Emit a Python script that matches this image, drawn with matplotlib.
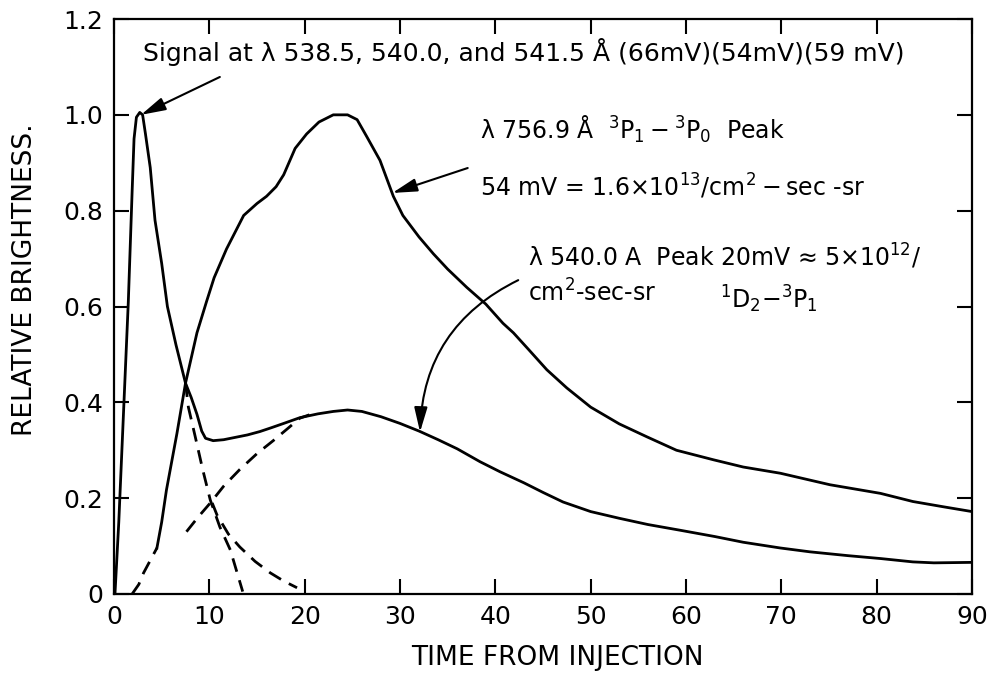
import matplotlib
matplotlib.use("Agg")
import matplotlib.pyplot as plt

# ==== data ====
# fast peak (538.5/540.0/541.5 A) joined to the slow 540.0 A component
fast_x = [0.1, 0.5, 1.0, 1.5, 1.9, 2.1, 2.35, 2.7, 3.0, 3.3, 3.8, 4.3, 5.0, 5.6,
          6.5, 7.5, 8.1, 8.7, 9.2, 9.6, 10.4, 11.5, 12.5, 14.0, 15.3, 16.5, 17.8,
          19.5, 21.4, 23.0, 24.5, 26.0, 28.0, 30.0, 32.0, 34.0, 36.0, 38.4, 40.5,
          43.0, 45.0, 47.1, 50.0, 53.0, 56.0, 59.4, 63.0, 66.0, 69.9, 73.0, 77.0,
          80.4, 83.8, 86.0, 90.0]
fast_y = [0.0, 0.15, 0.38, 0.61, 0.84, 0.95, 0.995, 1.005, 1.0, 0.96, 0.89, 0.78,
          0.69, 0.60, 0.52, 0.44, 0.41, 0.375, 0.34, 0.325, 0.32, 0.322, 0.326,
          0.332, 0.339, 0.347, 0.356, 0.368, 0.376, 0.381, 0.384, 0.381, 0.37,
          0.356, 0.34, 0.322, 0.303, 0.276, 0.255, 0.232, 0.212, 0.192, 0.172,
          0.158, 0.145, 0.133, 0.12, 0.108, 0.096, 0.088, 0.08, 0.074, 0.067,
          0.065, 0.066]

# 756.9 A line
slow_x = [4.5, 5.0, 5.5, 6.6, 7.5, 8.7, 9.7, 10.5, 11.8, 13.6, 15.0, 16.0, 17.0,
          17.8, 19.0, 20.2, 21.5, 23.0, 24.5, 25.5, 26.5, 27.9, 29.3, 30.3, 32.0,
          33.5, 35.0, 37.0, 39.0, 40.8, 41.9, 43.5, 45.4, 47.5, 50.0, 53.0, 55.9,
          59.0, 62.9, 66.0, 69.9, 75.1, 80.4, 83.8, 87.0, 90.0]
slow_y = [0.096, 0.15, 0.217, 0.335, 0.44, 0.545, 0.61, 0.66, 0.72, 0.79, 0.815,
          0.83, 0.85, 0.875, 0.93, 0.96, 0.985, 1.0, 1.0, 0.99, 0.955, 0.905,
          0.83, 0.79, 0.745, 0.71, 0.678, 0.64, 0.605, 0.565, 0.545, 0.51, 0.468,
          0.43, 0.39, 0.355, 0.328, 0.30, 0.28, 0.265, 0.252, 0.228, 0.21, 0.193,
          0.182, 0.172]

# dashed extrapolations
d1_x = [1.9, 2.6, 3.1, 3.8, 4.5]
d1_y = [0.0, 0.02, 0.044, 0.07, 0.096]
d2_x = [7.5, 7.8, 8.5, 9.3, 10.1, 11.1, 12.2, 13.5]
d2_y = [0.44, 0.39, 0.33, 0.26, 0.196, 0.14, 0.092, 0.005]
d3_x = [10.3, 10.8, 12.0, 13.2, 14.8, 16.4, 17.8, 19.2]
d3_y = [0.19, 0.165, 0.125, 0.098, 0.068, 0.044, 0.027, 0.013]
d4_x = [7.6, 8.8, 10.1, 11.5, 13.2, 15.0, 16.7, 18.2, 19.5, 20.5]
d4_y = [0.13, 0.16, 0.19, 0.225, 0.26, 0.293, 0.32, 0.345, 0.367, 0.374]

x_ticks = [0, 10, 20, 30, 40, 50, 60, 70, 80, 90]
y_ticks = [0, 0.2, 0.4, 0.6, 0.8, 1.0, 1.2]
y_ticklabels = ["0", "0.2", "0.4", "0.6", "0.8", "1.0", "1.2"]

plt.rcParams["font.family"] = ["DejaVu Sans"]
plt.rcParams["mathtext.default"] = "regular"

fig = plt.figure(figsize=(9.88, 6.74), dpi=100)
ax = fig.add_axes([0.1154, 0.1187, 0.8684, 0.8531])

lw = 2.0
dash = (5.0, 3.2)
ax.plot(fast_x, fast_y, color="black", lw=lw)
ax.plot(slow_x, slow_y, color="black", lw=lw)
for dx, dy in [(d1_x, d1_y), (d2_x, d2_y), (d3_x, d3_y), (d4_x, d4_y)]:
    ax.plot(dx, dy, color="black", lw=lw, linestyle=(0, dash))

ax.set_xlim(0, 90)
ax.set_ylim(0, 1.2)
ax.set_xticks(x_ticks)
ax.set_yticks(y_ticks)
ax.set_yticklabels(y_ticklabels)
ax.tick_params(direction="in", length=11, width=1.5, labelsize=18,
               top=True, right=True, pad=8)
for s in ax.spines.values():
    s.set_linewidth(1.6)

fs = 17
ax.text(3.05, 1.131, "Signal at λ 538.5, 540.0, and 541.5 Å (66mV)(54mV)(59 mV)",
        fontsize=18, ha="left", va="center")
ax.text(38.4, 0.969, "λ 756.9 Å  $^3$P$_1-^3$P$_0$  Peak",
        fontsize=fs, ha="left", va="center")
ax.text(38.4, 0.85, "54 mV = 1.6×10$^{13}$/cm$^2-$sec -sr",
        fontsize=fs, ha="left", va="center")
ax.text(43.4, 0.704, "λ 540.0 A  Peak 20mV ≈ 5×10$^{12}$/",
        fontsize=fs, ha="left", va="center")
ax.text(43.4, 0.628, "cm$^2$-sec-sr", fontsize=fs, ha="left", va="center")
ax.text(63.6, 0.614, "$^1$D$_2$−$^3$P$_1$", fontsize=fs, ha="left", va="center")

arrow = dict(arrowstyle="-|>,head_length=0.75,head_width=0.2", color="black",
             lw=1.5, mutation_scale=20, shrinkA=0, shrinkB=0)
ax.annotate("", xy=(2.83, 1.0), xytext=(11.1, 1.079), arrowprops=arrow)
ax.annotate("", xy=(29.2, 0.837), xytext=(37.1, 0.889), arrowprops=arrow)
ax.annotate("", xy=(32.1, 0.338), xytext=(42.4, 0.655),
            arrowprops=dict(arrow, connectionstyle="arc3,rad=0.3"))

fig.text(0.0253, 0.585, "RELATIVE BRIGHTNESS.", rotation=90, fontsize=19,
         ha="center", va="center")
fig.text(0.564, 0.024, "TIME FROM INJECTION", fontsize=19, ha="center",
         va="center")

fig.savefig("out.png", dpi=100)
